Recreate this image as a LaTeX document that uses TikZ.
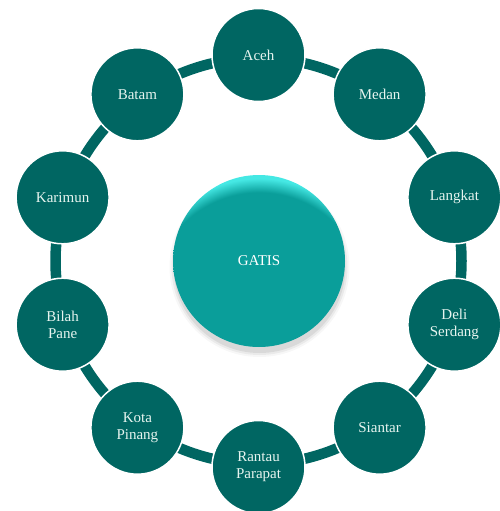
\documentclass[tikz,border=0pt]{standalone}
\usepackage{fontspec}
\setmainfont{Liberation Serif}
\definecolor{darkteal}{HTML}{006662}
\definecolor{midteal}{HTML}{0A9E9A}
\definecolor{liteteal}{HTML}{45E8E4}
\definecolor{paletext}{HTML}{E6F4EF}
\pgfdeclareradialshading{hubshade}{\pgfpoint{0bp}{0bp}}{color(0bp)=(midteal); color(11.7bp)=(midteal); color(13.2bp)=(liteteal); color(50bp)=(liteteal)}
\tikzset{
  place/.style={circle, fill=darkteal, draw=white, line width=1.5pt, minimum size=93pt, inner sep=0pt,
    text=paletext, font=\fontsize{15}{17}\selectfont, align=center},
  ringline/.style={draw=darkteal, line width=10.5pt},
  hub/.style={circle, minimum size=172pt, inner sep=0pt, text=white, font=\fontsize{15}{17}\selectfont}
}
\begin{document}
\begin{tikzpicture}[x=1pt,y=-1pt]
\useasboundingbox (0,0) rectangle (500,511);
% ring
\coordinate (c) at (258.5,261);
\draw[ringline] (c) circle (203);
% hub shadow
\foreach \r/\o in {90/0.03,88/0.05,86/0.07}{
  \fill[black,opacity=\o] (259.5,267) circle (\r);
}
\node[hub] (hub) at (259,261) {};
\begin{scope}
\clip (hub.center) circle (86);
\shade[shading=hubshade] (259,300) circle (230);
\end{scope}
\node[hub] at (hub.center) {GATIS};
% outer nodes
\node[place] (aceh) at (258.5,55) {Aceh};
\node[place] (medan) at (379.6,94.3) {Medan};
\node[place] (langkat) at (454.4,197.3) {Langkat};
\node[place] (deli) at (454.4,324.7) {Deli\\Serdang};
\node[place] (siantar) at (379.6,427.7) {Siantar};
\node[place] (rantau) at (258.5,467) {Rantau\\Parapat};
\node[place] (kota) at (137.4,427.7) {Kota\\Pinang};
\node[place] (bilah) at (62.6,324.7) {Bilah\\Pane};
\node[place] (karimun) at (62.6,197.3) {Karimun};
\node[place] (batam) at (137.4,94.3) {Batam};
\end{tikzpicture}
\end{document}
